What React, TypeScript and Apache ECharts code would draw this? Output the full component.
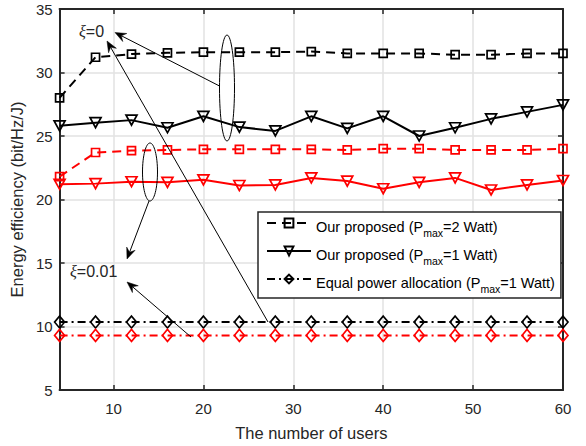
import React, { useEffect, useRef } from 'react';
import * as echarts from 'echarts';

// Number of users (x values)
const users = [4, 8, 12, 16, 20, 24, 28, 32, 36, 40, 44, 48, 52, 56, 60];

// xi = 0 (black)
const proposedP2Xi0 = [28.0, 31.2, 31.45, 31.55, 31.6, 31.6, 31.6, 31.65, 31.5, 31.5, 31.5, 31.4, 31.4, 31.5, 31.5];
const proposedP1Xi0 = [25.8, 26.05, 26.25, 25.65, 26.55, 25.7, 25.4, 26.55, 25.6, 26.55, 25.0, 25.65, 26.35, 26.9, 27.45];
const equalP1Xi0 = [10.35, 10.35, 10.35, 10.35, 10.35, 10.35, 10.35, 10.35, 10.35, 10.35, 10.35, 10.35, 10.35, 10.35, 10.35];

// xi = 0.01 (red)
const proposedP2Xi001 = [21.8, 23.7, 23.85, 23.9, 23.95, 23.95, 23.95, 23.95, 23.9, 24.0, 24.0, 23.9, 23.9, 23.9, 24.0];
const proposedP1Xi001 = [21.2, 21.25, 21.4, 21.35, 21.55, 21.1, 21.15, 21.7, 21.45, 20.85, 21.35, 21.7, 20.75, 21.15, 21.5];
const equalP1Xi001 = [9.3, 9.3, 9.3, 9.3, 9.3, 9.3, 9.3, 9.3, 9.3, 9.3, 9.3, 9.3, 9.3, 9.3, 9.3];

const legendNames = [
  'Our proposed (Pmax=2 Watt)',
  'Our proposed (Pmax=1 Watt)',
  'Equal power allocation (Pmax=1 Watt)',
];
const legendParts: Record<string, [string, string, string]> = {
  'Our proposed (Pmax=2 Watt)': ['Our proposed (P', 'max', '=2 Watt)'],
  'Our proposed (Pmax=1 Watt)': ['Our proposed (P', 'max', '=1 Watt)'],
  'Equal power allocation (Pmax=1 Watt)': ['Equal power allocation (P', 'max', '=1 Watt)'],
};

const yTitle = 'Energy efficiency (bit/Hz/J)';
const xTitle = 'The number of users';

const FONT = '"Liberation Sans", Arial, Helvetica, sans-serif';
const AXIS_COLOR = '#262626';
const DASH = [9, 6];
const DASHDOT = [8, 4, 2, 4];

function mkSeries(name: string, values: number[], color: string, dash: any, symbol: string, size: any, rotate = 0) {
  return {
    type: 'line',
    name,
    data: users.map((u, i) => [u, values[i]]),
    xAxisIndex: 0,
    yAxisIndex: 0,
    symbol,
    symbolSize: size,
    symbolRotate: rotate,
    showSymbol: true,
    silent: true,
    lineStyle: { color, width: 2, type: dash },
    itemStyle: { color: 'transparent', borderColor: color, borderWidth: 1.7 },
    emphasis: { disabled: true },
    z: 3,
  };
}

function arrow(x1: number, y1: number, x2: number, y2: number) {
  const L = 11;
  const W = 9;
  const dx = x2 - x1;
  const dy = y2 - y1;
  const len = Math.sqrt(dx * dx + dy * dy);
  const ux = dx / len;
  const uy = dy / len;
  const px = -uy;
  const py = ux;
  const bx = x2 - ux * L;
  const by = y2 - uy * L;
  const nx = x2 - ux * L * 0.65;
  const ny = y2 - uy * L * 0.65;
  return [
    {
      type: 'line',
      shape: { x1, y1, x2: nx, y2: ny },
      style: { stroke: '#000', lineWidth: 1 },
      z: 100,
    },
    {
      type: 'polygon',
      shape: {
        points: [
          [x2, y2],
          [bx + px * W / 2, by + py * W / 2],
          [nx, ny],
          [bx - px * W / 2, by - py * W / 2],
        ],
      },
      style: { fill: '#000', stroke: '#000', lineWidth: 0.5 },
      z: 100,
    },
  ];
}

export default function App() {
  const ref = useRef<HTMLDivElement>(null);
  useEffect(() => {
    const chart = echarts.init(ref.current!, null, { renderer: 'svg' });
    const axisLine = { show: true, onZero: false, lineStyle: { color: AXIS_COLOR, width: 2 } };
    const axisTick = { show: true, inside: true, length: 5, lineStyle: { color: AXIS_COLOR, width: 1.5 } };
    const option: any = {
      animation: false,
      backgroundColor: '#fff',
      textStyle: { fontFamily: FONT },
      grid: { left: 59, right: 23, top: 9, bottom: 51, containLabel: false },
      xAxis: [
        {
          type: 'value',
          min: 4,
          max: 60,
          splitNumber: 5,
          position: 'bottom',
          name: xTitle,
          nameLocation: 'middle',
          nameGap: 34,
          nameTextStyle: { fontSize: 16.5, color: AXIS_COLOR, fontFamily: FONT },
          axisLine,
          axisTick,
          axisLabel: {
            fontSize: 15,
            color: AXIS_COLOR,
            fontFamily: FONT,
            margin: 11,
            formatter: (v: number) => (v === 4 ? '' : String(v)),
          },
          splitLine: { show: true, lineStyle: { color: '#e2e2e2', width: 1.5 } },
        },
        {
          type: 'value',
          min: 4,
          max: 60,
          splitNumber: 5,
          position: 'top',
          axisLine,
          axisTick,
          axisLabel: { show: false },
          splitLine: { show: false },
        },
      ],
      yAxis: [
        {
          type: 'value',
          min: 5,
          max: 35,
          interval: 5,
          position: 'left',
          name: yTitle,
          nameLocation: 'middle',
          nameGap: 30,
          nameTextStyle: { fontSize: 16.5, color: AXIS_COLOR, fontFamily: FONT },
          axisLine,
          axisTick,
          axisLabel: { fontSize: 15, color: AXIS_COLOR, fontFamily: FONT, margin: 7 },
          splitLine: { show: true, lineStyle: { color: '#e2e2e2', width: 1.5 } },
        },
        {
          type: 'value',
          min: 5,
          max: 35,
          interval: 5,
          position: 'right',
          axisLine,
          axisTick,
          axisLabel: { show: false },
          splitLine: { show: false },
        },
      ],
      legend: {
        data: legendNames,
        orient: 'vertical',
        left: 258,
        top: 212,
        padding: [3, 6, 4, 8],
        itemGap: 5,
        itemWidth: 44,
        itemHeight: 11,
        backgroundColor: '#fff',
        borderColor: AXIS_COLOR,
        borderWidth: 1.5,
        borderRadius: 0,
        selectedMode: false,
        z: 50,
        formatter: (name: string) => {
          const p = legendParts[name];
          return `{a|${p[0]}}{s|${p[1]}}{a|${p[2]}}`;
        },
        textStyle: {
          color: '#000',
          fontFamily: FONT,
          fontSize: 14.5,
          rich: {
            a: { fontSize: 14.5, fontFamily: FONT, color: '#000', lineHeight: 16, padding: [4, 0, 4, 0], verticalAlign: 'top' },
            s: { fontSize: 10.5, fontFamily: FONT, color: '#000', lineHeight: 12, padding: [12, 0, 0, 0], verticalAlign: 'top' },
          },
        },
      },
      series: [
        mkSeries(legendNames[0], proposedP2Xi0, '#000', DASH, 'rect', 8),
        mkSeries(legendNames[1], proposedP1Xi0, '#000', 'solid', 'triangle', [11, 10], 180),
        mkSeries(legendNames[2], equalP1Xi0, '#000', DASHDOT, 'diamond', [10, 12]),
        mkSeries('Our proposed (Pmax=2 Watt), xi=0.01', proposedP2Xi001, '#ff0000', DASH, 'rect', 8),
        mkSeries('Our proposed (Pmax=1 Watt), xi=0.01', proposedP1Xi001, '#ff0000', 'solid', 'triangle', [11, 10], 180),
        mkSeries('Equal power allocation (Pmax=1 Watt), xi=0.01', equalP1Xi001, '#ff0000', DASHDOT, 'diamond', [10, 12]),
      ],
      graphic: [
        {
          type: 'ellipse',
          shape: { cx: 227, cy: 88, rx: 7.5, ry: 53 },
          style: { fill: 'none', stroke: '#000', lineWidth: 1 },
          z: 100,
        },
        {
          type: 'ellipse',
          shape: { cx: 150, cy: 172, rx: 7.5, ry: 29 },
          style: { fill: 'none', stroke: '#000', lineWidth: 1 },
          z: 100,
        },
        ...arrow(219.5, 86, 115, 32.5),
        ...arrow(268, 322, 107, 41),
        ...arrow(149, 201, 127, 259),
        ...arrow(191, 337, 127, 282),
        {
          type: 'text',
          x: 79,
          y: 31,
          z: 100,
          style: {
            text: '{g|ξ}{t|=0}',
            verticalAlign: 'middle',
            align: 'left',
            rich: {
              g: { fontSize: 16, fontStyle: 'italic', fontFamily: '"Liberation Serif", "DejaVu Serif", serif', fill: '#262626' },
              t: { fontSize: 16, fontFamily: FONT, fill: '#262626' },
            },
          },
        },
        {
          type: 'text',
          x: 70,
          y: 271,
          z: 100,
          style: {
            text: '{g|ξ}{t|=0.01}',
            verticalAlign: 'middle',
            align: 'left',
            rich: {
              g: { fontSize: 16, fontStyle: 'italic', fontFamily: '"Liberation Serif", "DejaVu Serif", serif', fill: '#262626' },
              t: { fontSize: 16, fontFamily: FONT, fill: '#262626' },
            },
          },
        },
      ],
    };
    chart.setOption(option);
    return () => chart.dispose();
  }, []);
  return <div ref={ref} style={{ position: 'absolute', left: 0, top: 0, width: 586, height: 446 }} />;
}
